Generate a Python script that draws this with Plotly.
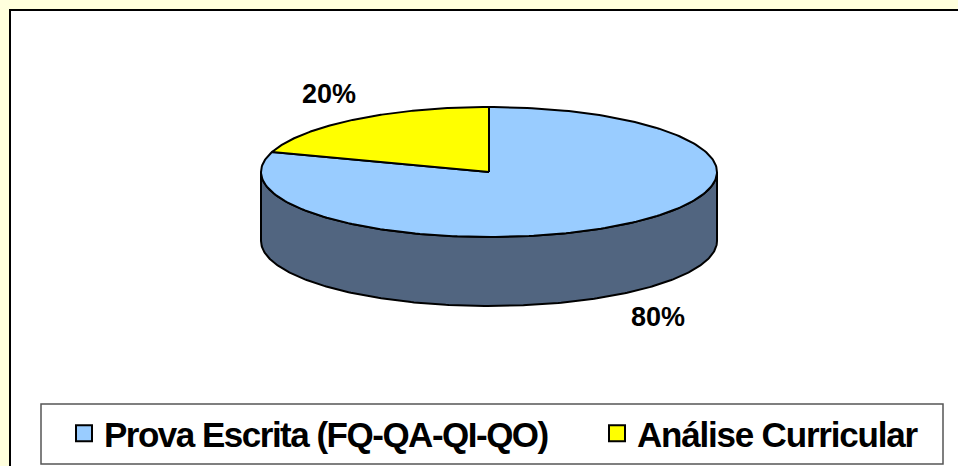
import numpy as np
import plotly.graph_objects as go

labels = ["Prova Escrita (FQ-QA-QI-QO)", "Análise Curricular"]
values = [80, 20]
colors = ["#99CCFF", "#FFFF00"]
wall_color = "#516580"

W, H = 958, 466
# pie geometry in pixels
cx, cy = 489, 172
rx, ry = 228, 65
depth = 69
steps = 240


def top_point(a):
    # a: degrees clockwise from 12 o'clock
    r = np.radians(a)
    return cx + rx * np.sin(r), cy - ry * np.cos(r)


def arc(a0, a1):
    a = np.linspace(a0, a1, steps)
    return top_point(a)


fig = go.Figure()

# side wall, only the front half of the rim shows
x_front, y_front = arc(90, 270)
wall_x = np.concatenate([x_front, x_front[::-1], x_front[:1]])
wall_y = np.concatenate([y_front, (y_front + depth)[::-1], y_front[:1]])
fig.add_trace(
    go.Scatter(
        x=wall_x,
        y=wall_y,
        mode="lines",
        fill="toself",
        fillcolor=wall_color,
        line=dict(color="black", width=2),
        showlegend=False,
        hoverinfo="skip",
    )
)

# top face slices, first slice starts at 12 o'clock going clockwise
start = 0
for label, value, color in zip(labels, values, colors):
    end = start + 360 * value / sum(values)
    x_arc, y_arc = arc(start, end)
    fig.add_trace(
        go.Scatter(
            x=np.concatenate([[cx], x_arc, [cx]]),
            y=np.concatenate([[cy], y_arc, [cy]]),
            mode="lines",
            fill="toself",
            fillcolor=color,
            line=dict(color="black", width=2),
            showlegend=False,
            name=label,
        )
    )
    start = end

# legend swatches, one legend each so they can sit apart on one row
legend_ids = ["legend", "legend2"]
letter_spacing = [-1.5, -1.2]
for label, color, legend_id, spacing in zip(labels, colors, legend_ids, letter_spacing):
    fig.add_trace(
        go.Scatter(
            x=[None],
            y=[None],
            mode="markers",
            marker=dict(
                symbol="square",
                size=18,
                color=color,
                line=dict(color="black", width=2),
            ),
            name=f'<span style="letter-spacing:{spacing}px">{label}</span>',
            legend=legend_id,
        )
    )

legend_style = dict(
    y=1 - 433.5 / H,
    xanchor="left",
    yanchor="middle",
    font=dict(size=35, family="Liberation Sans", weight="bold"),
    bgcolor="rgba(0,0,0,0)",
    borderwidth=0,
    itemclick=False,
    itemdoubleclick=False,
)

fig.update_layout(
    width=W,
    height=H,
    margin=dict(l=0, r=0, t=0, b=0),
    paper_bgcolor="#FFFFDD",
    plot_bgcolor="rgba(0,0,0,0)",
    font=dict(family="Liberation Sans", color="black"),
    xaxis=dict(visible=False, range=[0, W], fixedrange=True),
    yaxis=dict(visible=False, range=[H, 0], fixedrange=True),
    shapes=[
        dict(
            type="rect",
            xref="x",
            yref="y",
            x0=10,
            y0=10,
            x1=W + 5,
            y1=H + 5,
            fillcolor="white",
            line=dict(color="black", width=2),
            layer="below",
        ),
        dict(
            type="rect",
            xref="x",
            yref="y",
            x0=41,
            y0=404,
            x1=943,
            y1=464,
            fillcolor="white",
            line=dict(color="#555555", width=1.5),
            layer="below",
        ),
    ],
    legend=dict(x=64 / W, **legend_style),
    legend2=dict(x=597 / W, **legend_style),
)

label_pos = [(658, 317), (329, 94)]
for value, (lx, ly) in zip(values, label_pos):
    fig.add_annotation(
        x=lx,
        y=ly,
        xref="x",
        yref="y",
        text=f"<b>{value}%</b>",
        showarrow=False,
        font=dict(size=27, family="Liberation Sans", color="black"),
    )

# page has a default body margin, drop it so the figure sits at 0,0
fig.write_html(
    "out.html",
    config={"displayModeBar": False},
    post_script="document.body.style.margin='0';",
)
